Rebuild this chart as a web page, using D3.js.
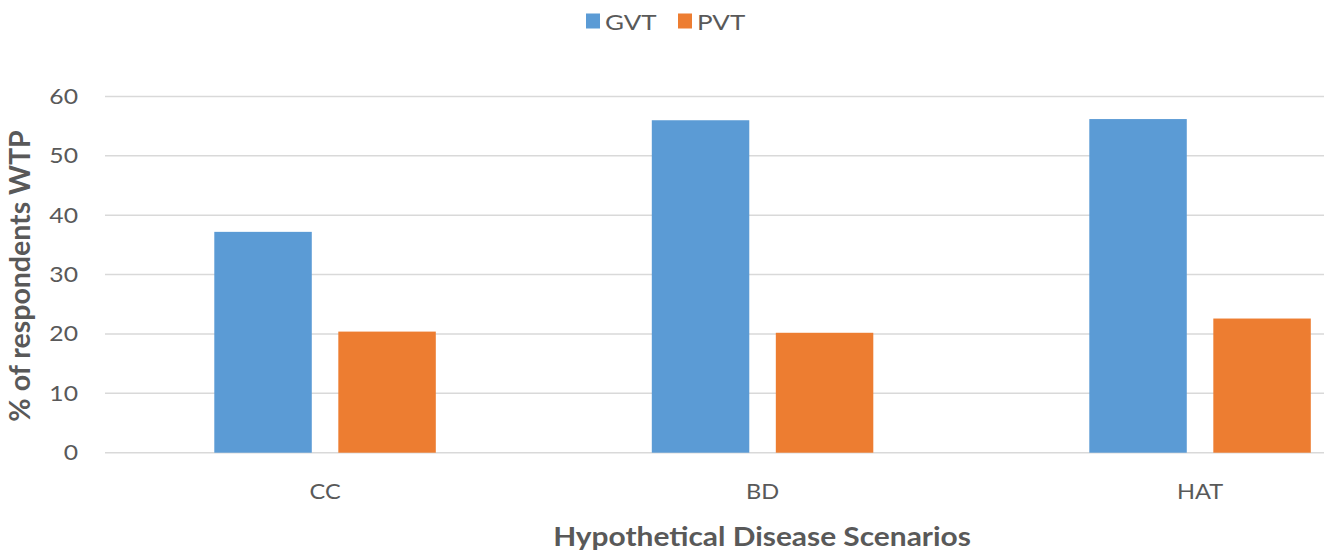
<!DOCTYPE html>
<html>
<head>
<meta charset="utf-8">
<script src="https://cdn.jsdelivr.net/npm/d3@7"></script>
<style>
	body{ margin:0; background:#fff; }
	text{ font-family: Lato, "Open Sans", sans-serif; }
</style>
</head>
<body>
<svg id="chart" width="1324" height="554"></svg>
<script>
var categories = ["CC", "BD", "HAT"];
var seriesNames = ["GVT", "PVT"];
var gvtValues = [37.2, 56.0, 56.2];
var pvtValues = [20.4, 20.2, 22.6];
var yTicks = [0, 10, 20, 30, 40, 50, 60];
var colors = {GVT: "#5b9bd5", PVT: "#ed7d31"};

// the source picture is a little wider than tall, so text is stretched sideways
var stretch = 1.15;

var svg = d3.select("#chart");

var data = categories.map(function(c, i){
	return {category: c, values: [
		{name: "GVT", value: gvtValues[i]},
		{name: "PVT", value: pvtValues[i]}
	]};
});

var y = d3.scaleLinear().domain([0, 60]).range([452.7, 96.5]);
var x0 = d3.scaleBand().domain(categories).range([106.3, 1418.8]).padding(0);
var groupW = 221.5;
var x1 = d3.scaleBand().domain(seriesNames)
	.range([(x0.bandwidth() - groupW) / 2, (x0.bandwidth() + groupW) / 2])
	.paddingInner(0.214).paddingOuter(0);

// gridlines
svg.append("g").selectAll("line.grid")
	.data(yTicks)
	.enter()
	.append("line")
	.classed("grid", true)
	.attr("x1", 105)
	.attr("x2", 1324)
	.attr("y1", function(d){ return y(d); })
	.attr("y2", function(d){ return y(d); })
	.attr("stroke", "#d9d9d9")
	.attr("stroke-width", 1.5);

// y tick labels
svg.append("g").selectAll("text.ytick")
	.data(yTicks)
	.enter()
	.append("text")
	.classed("ytick", true)
	.attr("transform", function(d){ return "translate(78," + y(d) + ") scale(" + stretch + ",1)"; })
	.attr("dy", "0.35em")
	.attr("text-anchor", "end")
	.attr("font-size", 21.5)
	.attr("fill", "#595959")
	.text(function(d){ return d; });

// bars
svg.append("g").selectAll("g.group")
	.data(data)
	.enter()
	.append("g")
	.classed("group", true)
	.attr("transform", function(d){ return "translate(" + x0(d.category) + ",0)"; })
	.selectAll("rect.bar")
	.data(function(d){ return d.values; })
	.enter()
	.append("rect")
	.classed("bar", true)
	.attr("x", function(d){ return x1(d.name); })
	.attr("y", function(d){ return y(d.value); })
	.attr("width", x1.bandwidth())
	.attr("height", function(d){ return y(0) - y(d.value); })
	.attr("fill", function(d){ return colors[d.name]; });

// x tick labels
svg.append("g").selectAll("text.xtick")
	.data(categories)
	.enter()
	.append("text")
	.classed("xtick", true)
	.attr("transform", function(d){
		return "translate(" + (x0(d) + x0.bandwidth() / 2) + ",499) scale(" + stretch + ",1)";
	})
	.attr("text-anchor", "middle")
	.attr("font-size", 20.5)
	.attr("fill", "#595959")
	.text(function(d){ return d; });

// axis titles
svg.append("text")
	.attr("transform", "translate(762,546) scale(" + stretch + ",1)")
	.attr("text-anchor", "middle")
	.attr("font-size", 26)
	.attr("font-weight", "bold")
	.attr("fill", "#595959")
	.text("Hypothetical Disease Scenarios");

svg.append("text")
	.attr("transform", "translate(30,276) rotate(-90)")
	.attr("text-anchor", "middle")
	.attr("font-size", 28.5)
	.attr("font-weight", "bold")
	.attr("fill", "#595959")
	.text("% of respondents WTP");

// legend
var legendX = [586, 678];
var legend = svg.append("g").selectAll("g.legend")
	.data(seriesNames)
	.enter()
	.append("g")
	.classed("legend", true)
	.attr("transform", function(d, i){ return "translate(" + legendX[i] + ",13.5)"; });
legend.append("rect")
	.attr("width", 14)
	.attr("height", 15)
	.attr("fill", function(d){ return colors[d]; });
legend.append("text")
	.attr("transform", "translate(19,16) scale(1.18,1)")
	.attr("font-size", 22)
	.attr("fill", "#595959")
	.text(function(d){ return d; });
</script>
</body>
</html>
